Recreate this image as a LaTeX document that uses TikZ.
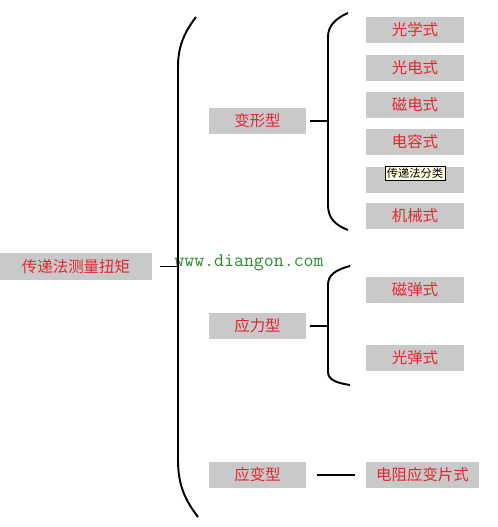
\documentclass[tikz,border=0pt]{standalone}
\usepackage{fontspec}
\newfontfamily\cjk{Noto Sans CJK SC}
\usepackage{xcolor}
\usetikzlibrary{positioning}
\definecolor{boxgray}{RGB}{201,201,201}
\definecolor{boxred}{RGB}{226,38,50}
\definecolor{markgreen}{RGB}{40,140,45}
\definecolor{tipyellow}{RGB}{255,255,225}
\tikzset{box/.style={fill=boxgray,text=boxred,inner sep=0pt,minimum width=1.96cm,minimum height=0.52cm,font=\cjk\fontsize{8.8}{10}\selectfont}}
\tikzset{brace/.style={line width=1.1pt}}

\begin{document}
\begin{tikzpicture}[x=0.02cm,y=-0.02cm]
        \useasboundingbox (0,0) rectangle (497,527);
        \node[box,minimum width=3.04cm,minimum height=0.54cm] (r)at (76,266.5) {传递法测量扭矩};
        \node[box] (a)at (257.5,121) {变形型};
        \node[box] (b)at (257.5,326) {应力型};
        \node[box] (c)at (257.5,475) {应变型};
        \node[box] (a1)at (415,30) {光学式};
        \node[box] (a2)at (415,68) {光电式};
        \node[box] (a3)at (415,105) {磁电式};
        \node[box] (a4)at (415,142) {电容式};
        \node[box] (a5)at (415,180) {};
        \node[box] (a6)at (415,216) {机械式};
        \node[box] (b1)at (415,290) {磁弹式};
        \node[box] (b2)at (415,358) {光弹式};
        \node[box,minimum width=2.26cm] (c1)at (422.5,475) {电阻应变片式};
        \node[fill=tipyellow,draw,line width=0.4pt,inner sep=1pt,font=\cjk\fontsize{6.4}{7}\selectfont] (tip)at (415,173) {传递法分类};
        \node[text=markgreen,font=\fontsize{11}{12}\ttfamily] (w)at (249,263) {www.diangon.com};

        \coordinate (p)at (178,266.5);
        \coordinate (q)at (328,121);
        \coordinate (s)at (328,326);

        \draw [brace] (196,17) .. controls (182,35) and (178,50) .. (178,67) -- (178,460) .. controls (178,485) and (185,500) .. (198,517);
        \draw [brace] (348,13) .. controls (334,19) and (328,27) .. (328,37) -- (328,205) .. controls (328,218) and (335,225) .. (348,230);
        \draw [brace] (350,266) .. controls (335,270) and (328,275) .. (328,285) -- (328,372) .. controls (328,380) and (337,383) .. (350,385);

        \draw [brace] ([xshift=0.16cm]r.east) to []node[]{} (p);
        \draw [brace] ([xshift=0.06cm]a.east) to []node[]{} (q);
        \draw [brace] ([xshift=0.06cm]b.east) to []node[]{} (s);
        \draw [line width=0.6pt] ([xshift=0.2cm]c.east) to []node[]{} ([xshift=-0.22cm]c1.west);
    \end{tikzpicture}
\end{document}
